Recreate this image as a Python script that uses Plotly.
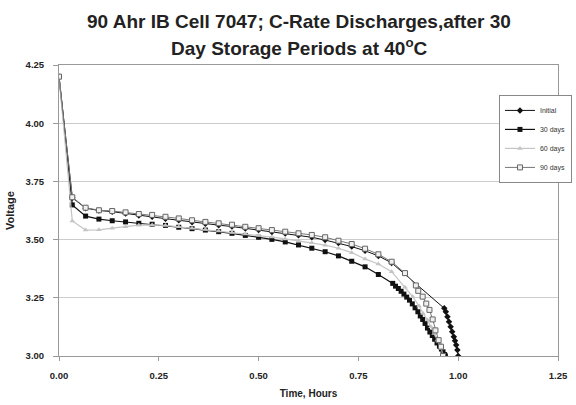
import plotly.graph_objects as go

# ---- data ----
t_grid = [0.0, 0.0333, 0.0667, 0.1, 0.1333, 0.1667, 0.2, 0.2333, 0.2667, 0.3, 0.3333,
          0.3667, 0.4, 0.4333, 0.4667, 0.5, 0.5333, 0.5667, 0.6, 0.6333, 0.6667,
          0.7, 0.7333, 0.7667, 0.8, 0.8333, 0.8667]

initial_t = t_grid[:26] + [0.965, 0.969, 0.973, 0.977, 0.981, 0.985, 0.989, 0.992, 0.995, 0.998, 1.0]
initial_v = [4.20, 3.68, 3.635, 3.625, 3.62, 3.612, 3.603, 3.598, 3.59, 3.583, 3.575,
             3.568, 3.562, 3.556, 3.548, 3.541, 3.533, 3.526, 3.519, 3.51, 3.498,
             3.485, 3.47, 3.452, 3.43, 3.40,
             3.205, 3.19, 3.169, 3.147, 3.126, 3.104, 3.083, 3.066, 3.047, 3.026, 3.0]

d30_t = t_grid[:25] + [0.836, 0.843, 0.85, 0.857, 0.864, 0.871, 0.878, 0.885, 0.892, 0.899,
                       0.905, 0.911, 0.917, 0.923, 0.929, 0.935, 0.941, 0.947, 0.953, 0.958,
                       0.962, 0.966, 0.968]
d30_v = [4.20, 3.649, 3.601, 3.588, 3.581, 3.576, 3.57, 3.566, 3.561, 3.553, 3.547,
         3.541, 3.534, 3.527, 3.518, 3.51, 3.501, 3.49, 3.477, 3.463, 3.448,
         3.43, 3.407, 3.383, 3.35,
         3.312, 3.30, 3.29, 3.278, 3.266, 3.253, 3.24, 3.224, 3.207, 3.19,
         3.172, 3.157, 3.14, 3.12, 3.103, 3.088, 3.072, 3.056, 3.042, 3.03,
         3.018, 3.006, 3.0]

d60_t = t_grid + [0.886, 0.902, 0.912, 0.923, 0.932, 0.94, 0.948, 0.957, 0.962]
d60_v = [4.20, 3.58, 3.541, 3.542, 3.549, 3.555, 3.562, 3.563, 3.561, 3.555, 3.549,
         3.543, 3.537, 3.531, 3.524, 3.518, 3.511, 3.503, 3.495, 3.486, 3.476,
         3.463, 3.444, 3.417, 3.395, 3.362, 3.295,
         3.255, 3.215, 3.183, 3.155, 3.126, 3.097, 3.069, 3.033, 3.004]

d90_t = t_grid + [0.894, 0.90, 0.911, 0.92, 0.928, 0.936, 0.943, 0.951, 0.957, 0.962]
d90_v = [4.20, 3.682, 3.637, 3.626, 3.623, 3.617, 3.61, 3.606, 3.598, 3.591, 3.583,
         3.576, 3.57, 3.564, 3.555, 3.549, 3.541, 3.534, 3.527, 3.52, 3.51,
         3.495, 3.481, 3.461, 3.437, 3.405, 3.356,
         3.303, 3.28, 3.255, 3.225, 3.198, 3.157, 3.11, 3.068, 3.04, 3.0]

series_names = ["Initial", "30 days", "60 days", "90 days"]
x_ticks = [0.0, 0.25, 0.5, 0.75, 1.0, 1.25]
x_tick_labels = ["0.00", "0.25", "0.50", "0.75", "1.00", "1.25"]
y_ticks = [3.0, 3.25, 3.5, 3.75, 4.0, 4.25]
y_tick_labels = ["3.00", "3.25", "3.50", "3.75", "4.00", "4.25"]
title_lines = ["90 Ahr IB Cell 7047; C-Rate Discharges,after 30",
               "Day Storage Periods at 40<sup>o</sup>C"]

FONT = "Liberation Sans, Arial, sans-serif"

fig = go.Figure()
fig.add_trace(go.Scatter(x=initial_t, y=initial_v, name=series_names[0], mode="lines+markers",
                         line=dict(color="#111111", width=1),
                         marker=dict(symbol="diamond", size=5, color="#111111")))
fig.add_trace(go.Scatter(x=d30_t, y=d30_v, name=series_names[1], mode="lines+markers",
                         line=dict(color="#111111", width=1.2),
                         marker=dict(symbol="square", size=5, color="#111111")))
fig.add_trace(go.Scatter(x=d60_t, y=d60_v, name=series_names[2], mode="lines+markers",
                         line=dict(color="#c4c4c4", width=1.2),
                         marker=dict(symbol="triangle-up", size=5, color="#c4c4c4")))
fig.add_trace(go.Scatter(x=d90_t, y=d90_v, name=series_names[3], mode="lines+markers",
                         line=dict(color="#777777", width=1),
                         marker=dict(symbol="square", size=5, color="#f0f0f0",
                                     line=dict(color="#666666", width=1))))

# plot area: x 59..558 px, y 65..356 px
fig.update_layout(
    width=576, height=405,
    margin=dict(l=59, r=18, t=65, b=49, autoexpand=False),
    paper_bgcolor="white", plot_bgcolor="white",
    font=dict(family=FONT, color="#222222"),
    showlegend=True,
    legend=dict(x=1.028, y=0.746, xanchor="right", yanchor="middle",
                bgcolor="white", bordercolor="#888888", borderwidth=1,
                font=dict(size=7, family=FONT, color="#333333"),
                tracegroupgap=0, itemwidth=30),
)
for txt, ypx in zip(title_lines, [21, 47]):
    fig.add_annotation(text="<b>" + txt + "</b>", xref="paper", yref="paper",
                       x=(299 - 59) / 499, y=(356 - ypx) / 291, xanchor="center", yanchor="middle",
                       showarrow=False, font=dict(size=19, family=FONT, color="#222222"))

fig.update_xaxes(range=[0, 1.25], tickvals=x_ticks, ticktext=["<b>" + s + "</b>" for s in x_tick_labels],
                 showgrid=False, zeroline=False,
                 showline=True, linecolor="#999999", linewidth=1, mirror=True,
                 ticks="outside", ticklen=4, tickcolor="#999999", ticklabelstandoff=7,
                 tickfont=dict(size=9.5, family=FONT, color="#222222"),
                 title=dict(text="<b>Time, Hours</b>", font=dict(size=10, family=FONT), standoff=9))
fig.update_yaxes(range=[3.0, 4.25], tickvals=y_ticks, ticktext=["<b>" + s + "</b>" for s in y_tick_labels],
                 showgrid=True, gridcolor="#cccccc", gridwidth=1, zeroline=False,
                 showline=True, linecolor="#999999", linewidth=1, mirror=True,
                 ticks="outside", ticklen=5, tickcolor="#999999", ticklabelstandoff=7,
                 tickfont=dict(size=9.5, family=FONT, color="#222222"),
                 title=dict(text="<b>Voltage</b>", font=dict(size=11, family=FONT), standoff=8))

fig.write_html("out.html", config={"displayModeBar": False},
               post_script="document.body.style.margin='0px';")
